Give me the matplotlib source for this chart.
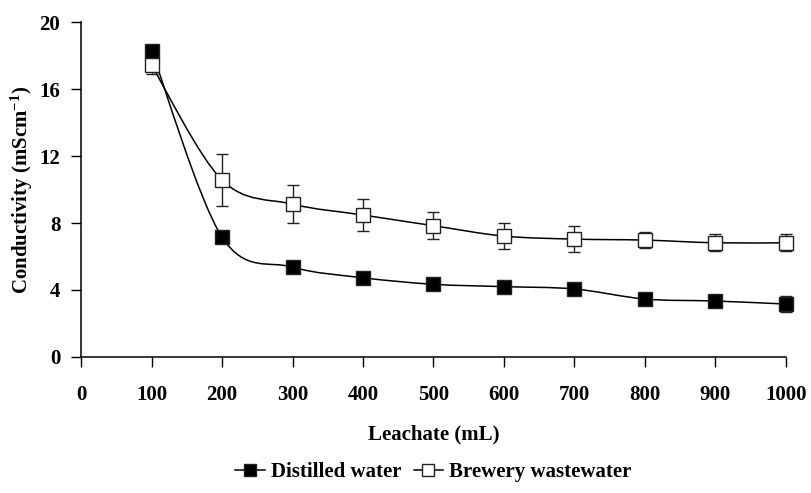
import numpy as np
import matplotlib.pyplot as plt
from matplotlib.path import Path
from matplotlib.patches import PathPatch

# =====================================================
# DATA
# =====================================================

leachate = [100, 200, 300, 400, 500, 600, 700, 800, 900, 1000]

distilled = [18.3, 7.16, 5.37, 4.73, 4.34, 4.20, 4.06, 3.46, 3.34, 3.16]
distilled_err = [0.3, 0.3, 0.3, 0.3, 0.3, 0.3, 0.3, 0.3, 0.3, 0.5]

brewery = [17.43, 10.57, 9.13, 8.48, 7.84, 7.22, 7.04, 6.98, 6.82, 6.82]
brewery_err = [0.5, 1.55, 1.12, 0.93, 0.8, 0.8, 0.78, 0.5, 0.5, 0.5]

xticks = [0, 100, 200, 300, 400, 500, 600, 700, 800, 900, 1000]
yticks = [0, 4, 8, 12, 16, 20]

# =====================================================
# STYLE
# =====================================================

plt.rcParams["font.family"] = ["Liberation Serif", "DejaVu Serif"]
plt.rcParams["font.weight"] = "bold"
plt.rcParams["mathtext.fontset"] = "custom"
plt.rcParams["mathtext.rm"] = "Liberation Serif:bold"
plt.rcParams["mathtext.bf"] = "Liberation Serif:bold"
plt.rcParams["mathtext.it"] = "Liberation Serif:bold"

FS = 15


def smooth_path(x, y):
    # Excel-like smoothed line: cubic Bezier through the points
    pts = np.column_stack([x, y]).astype(float)
    n = len(pts)
    verts = [pts[0]]
    codes = [Path.MOVETO]
    for i in range(n - 1):
        p0 = pts[i - 1] if i > 0 else pts[i]
        p1 = pts[i]
        p2 = pts[i + 1]
        p3 = pts[i + 2] if i + 2 < n else pts[i + 1]
        c1 = p1 + (p2 - p0) / 6.0
        c2 = p2 - (p3 - p1) / 6.0
        verts += [c1, c2, p2]
        codes += [Path.CURVE4] * 3
    return Path(verts, codes)


# =====================================================
# PLOT
# =====================================================

fig = plt.figure(figsize=(8.11, 4.93), dpi=100)
ax = fig.add_axes([0.100, 0.276, 0.869, 0.679])

for yv, err, face, lab in [
    (distilled, distilled_err, "black", "Distilled water"),
    (brewery, brewery_err, "white", "Brewery wastewater"),
]:
    ax.add_patch(PathPatch(smooth_path(leachate, yv), facecolor="none",
                           edgecolor="black", lw=1.1, zorder=2,
                           clip_on=False))
    eb = ax.errorbar(leachate, yv, yerr=err, fmt="none", ecolor="#222222",
                     elinewidth=1.0, capsize=4, capthick=1.0, zorder=1)
    for art in eb.lines[1] + eb.lines[2]:
        art.set_clip_on(False)
    ax.plot(leachate, yv, linestyle="none", marker="s", markersize=10.5,
            markerfacecolor=face, markeredgecolor="#222222",
            markeredgewidth=1.0, zorder=3, clip_on=False)
    # legend proxy
    ax.plot([], [], color="black", lw=1.1, marker="s", markersize=10.5,
            markerfacecolor=face, markeredgecolor="#222222",
            markeredgewidth=1.0, label=lab)

ax.set_xlim(0, 1000)
ax.set_ylim(0, 20)
ax.set_xticks(xticks)
ax.set_yticks(yticks)
ax.tick_params(axis="both", direction="out", length=7, width=1,
               labelsize=FS)
ax.tick_params(axis="x", pad=13)
ax.tick_params(axis="y", pad=8)

for s in ["top", "right"]:
    ax.spines[s].set_visible(False)
for s in ["left", "bottom"]:
    ax.spines[s].set_linewidth(1.1)

ax.set_xlabel("Leachate (mL)", fontsize=FS, fontweight="bold", labelpad=14)
ax.set_ylabel("Conductivity (mScm$^{-1}$)", fontsize=FS,
              fontweight="bold", labelpad=3)

leg = ax.legend(loc="center", bbox_to_anchor=(0.5, -0.344), ncol=2,
                frameon=False, fontsize=FS, handlelength=1.4,
                handletextpad=0.3, columnspacing=0.6, markerscale=0.8,
                borderpad=0.1)

fig.savefig("out.png", dpi=100)
plt.close(fig)
